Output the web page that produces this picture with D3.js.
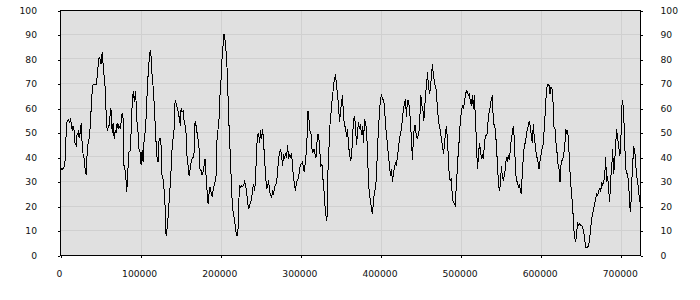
<!DOCTYPE html>
<html><head><meta charset="utf-8">
<script src="https://cdn.jsdelivr.net/npm/d3@7/dist/d3.min.js"></script>
<style>body{margin:0;background:#fff}svg{display:block}</style>
</head><body><svg id="c" width="700" height="300"></svg>
<script>
const xs = [0,2100,4100,5400,6200,7500,8700,10400,11200,12500,13700,14600,15800,17100,17800,19600,20800,22100,22800,23700,24900,25800,27100,28300,29600,30800,32000,33300,34500,35800,37000,38300,39500,40800,42800,44500,45800,47000,48300,49500,50800,52000,53200,54500,56100,57400,58600,59900,61100,62400,63600,64500,65700,67000,68200,69500,70700,72000,72700,74800,76900,78200,78900,80200,81400,82700,83900,85200,87300,88500,89800,91000,92300,93500,94400,95600,96900,98100,99400,100600,101900,103100,104400,106000,107200,108500,109700,111000,112200,113100,114300,115600,116800,118100,119300,120600,121800,123100,124300,125600,126800,128100,129300,130600,131800,133100,134300,135500,136800,138000,139300,140500,141800,143000,
143400,144700,145900,147100,148400,149600,150500,151800,153000,154300,155500,156700,158000,159200,160500,161700,163000,164200,165500,166700,168000,169200,170500,171700,173000,174200,175500,176700,177900,179200,180400,181700,182900,184200,185400,186700,187900,189200,190400,191700,192900,194200,195400,196700,197900,199100,200400,201600,202900,204100,204900,205800,207000,208200,209500,210700,212000,213200,214500,215700,217000,218200,219500,220700,222000,223200,224500,225700,227000,228600,229800,231100,232300,233600,234800,236100,237300,238600,239800,241000,242300,243500,244800,246000,247300,248500,249800,251000,252300,253500,254800,256000,257300,258500,259800,261000,262200,263500,264700,266000,267200,268500,269700,271000,272200,273500,274700,276000,277200,278500,279700,281000,282200,283400,284700,285900,287200,288400,289700,290900,292200,
293000,294300,295500,296800,298000,299300,300500,301800,303000,304300,305500,306800,308000,308900,310100,311400,312600,313900,315100,316400,317600,318900,320100,321400,322600,323800,325100,326300,327600,328800,330100,331300,332600,333800,335100,336300,337600,338800,340100,341300,342600,343300,344500,345800,347000,348300,349500,350800,352000,353300,354500,355800,357000,358300,359500,360800,362000,363300,364500,365700,367000,368200,369500,370700,372000,373200,374500,375700,377000,378200,379500,380700,382000,383200,384500,385700,386900,388200,389400,390700,391900,393200,394400,395700,396900,398200,399400,400700,401900,403200,404400,405700,406900,408100,409400,410600,411900,413100,414400,415600,416900,418100,419400,420600,421900,423100,424400,425600,426900,428100,429300,430600,431800,433100,434300,435600,436800,438100,439300,440600,441800,
442700,443900,445200,446400,447700,448900,449800,451000,452300,453500,454800,456000,457300,458000,459300,460500,461800,463000,464300,465500,466800,468000,469200,470500,471700,473000,474200,475500,476700,478000,479200,480500,481700,483000,484200,485500,486700,488000,489200,490400,491700,492900,494200,495400,496700,497900,499200,500400,501700,502900,504200,505400,506700,507900,509200,510400,511600,512900,514100,515400,516600,517900,519100,520400,521600,522900,524100,525400,526600,527900,529100,530300,531600,532800,534100,535300,536600,537800,539100,540300,541600,542800,544100,545300,546600,547800,549100,550300,551500,552800,554000,555300,556500,557800,559000,560300,561500,562800,564000,565300,566500,567800,569000,570300,571500,572700,574000,575200,576500,577700,579000,580200,581500,582700,584000,585200,586500,587700,589000,590200,591500,
592300,593600,594800,596100,597300,598600,599800,601100,602300,603500,604800,606000,607300,608500,609800,611000,612300,613500,614800,616000,617300,618500,619800,621000,622300,623500,624700,626000,627200,628500,629700,630600,631900,633100,634300,635600,636800,638100,639300,640600,641800,643100,644300,645600,646800,648100,649300,650600,651800,653100,654300,655500,656800,658000,659300,660500,661800,663000,664300,665500,666800,668000,669300,670500,671800,673000,674300,675500,676700,678000,679200,680500,681700,683000,684200,685500,686700,688000,689200,690500,691700,693000,694200,695500,696700,697900,699200,700400,701700,702900,704200,705400,706700,707900,709200,710400,711700,712900,714200,715400,716700,717900,719100,720400,721600,722900,724000];
const ys = [36,35,36,37,42,54,55,55.5,54,56,53,51,53,51,46,45,50,49,51,48,51,54,45,41,39.5,35,33,42,46,48,52,60,67,70,70,70,73,77.5,81,80,78,83,78,73,67,53,51,53,53,60,58.5,50,54,47.6,51,50,54,51.7,53,52,58,56,37,36,32.6,26,33,42,43,54,64.6,67,62.6,67,62.6,54,50,43,42,37,43,38,47.6,51,58.5,69,75.5,81,84,81,73.5,69,62.6,54,46,39.5,38,47.6,47.6,45,32,31,27,20,8,11,15.6,21.8,28,35,43.5,47.6,51.7,62.6,
63,62,60,58.5,55.8,53,60,58.5,59,55,53,50,40,36.7,32.6,35,38,39.5,40,42,55,53,50,47.6,43.5,35,34.7,33,34,36.7,39.5,32.6,26.5,21,25,28,26,24,26.5,28.6,30,32.6,47.6,51.7,55.8,65.3,72,80,85.7,90.5,89,87,81.6,74.8,61,50,40.8,30,20.4,17,15,12.2,8.2,8.2,12.2,28.6,28,28.6,28,28.6,30,28.6,26,21.8,19,20.4,21.8,23,27,29,26.5,31.3,43.5,49,50,46,51,47.6,51.7,46,39.5,32.6,27,28,30.6,26.5,24.5,23.8,26,25,28,28.6,30,34,39.5,42,43.5,40.8,36.7,41.5,39.5,42,40,45,39.5,41.5,40,42,36.7,30.6,30,
26.5,29,30.6,31.3,34,36.7,37.4,38,36.7,34,38,42,50,59,55.8,51,50,43.5,42,43.5,41.5,40,46,49.7,47.6,42,36.7,37.4,31.3,27,20.4,16.3,14.3,34,43.5,53,57.8,62.6,66.7,70.7,72.8,74,69.4,66,61.2,54.4,58.5,62.6,65.3,57,53,52.4,48.3,51.7,45,41.5,38.8,40,47.6,55,57,53,45,50,54.4,51.7,53.7,49,53,46,55.8,53.7,51.7,42,30,24.5,22.4,19,17,21.8,26.5,27.2,32.6,43.5,51.7,58.5,64,65.3,64,63.3,61.2,53,50,45,40.8,36.7,32.6,35.4,30,34,35.4,38,36.7,40.8,43.5,47.6,50,51.7,55.8,60,62,64,56.5,63.3,63.3,60,54.4,47.6,38.8,48.3,53,
53,49.7,47.6,49,51,58.5,65.3,61.2,60,55,61.2,66.7,70.7,74.8,69.4,66,68,73.5,78.2,73.5,70.7,68.7,67.3,60,55.8,52.4,51,47.6,45,41.5,45,50,53,47.6,39.5,31.3,30.6,31.3,23,21.8,21,20.4,30,35.4,43.5,47.6,55.8,58.5,61.2,60,62.6,65.3,67.3,66.7,65.3,66,62.6,61.2,65.3,60,65.3,55.8,47.6,35.4,39.5,46,43.5,39.5,40.8,39.5,45,49,49,49.7,57,58.5,61.2,64,65.3,54.4,53,51.7,45,38,30,26.5,28.6,36.7,32.6,30.6,32.6,35.4,40,38.8,40.8,38.8,43.5,47.6,50,53,47.6,36.7,30.6,30,28,28.6,27.2,25,34,40,45,46,49,51.7,53,55,52.4,49,46,53.7,47.6,
46,42,40,38,35.4,38.8,40.8,43.5,45,50,57,64,68.7,70,69.4,66,68.7,68,62.6,52.4,51.7,46,42,37.4,35.4,30,36.7,38.8,39.5,42,46,51.7,50,51,46,36,30,24.5,20.4,11,7.5,5.4,9.5,13,12.2,13,12.2,12.2,11.6,9.5,6.8,3.4,3.4,3.4,4,6.8,11,15,17,19,21,23,25,24.5,26.5,27.2,26,30,28.6,30.6,31.3,40,30,32.6,27.2,21.8,31.3,35.4,43.5,33.3,38,45,51.7,47.6,45,40.8,42,60,63.3,58.5,47.6,35.4,34,32.6,30,20.4,17.7,28.6,36.7,44.2,43.5,38,32.6,30.6,26.5,21.8,23];
const xTicks = [0,100000,200000,300000,400000,500000,600000,700000];
const yTicks = [0,10,20,30,40,50,60,70,80,90,100];
const xDomain = [0, 724000];
const yDomain = [0, 100];

const L = 60.5, R = 640.5, T = 10.5, B = 255.5;
const svg = d3.select('#c');
const x = d3.scaleLinear().domain(xDomain).range([L, R]);
const y = d3.scaleLinear().domain(yDomain).range([B, T]);
const font = '"DejaVu Sans", Verdana, sans-serif';

svg.append('rect').attr('x', L).attr('y', T).attr('width', R - L).attr('height', B - T).attr('fill', '#e0e0e0');

const grid = svg.append('g').attr('stroke', '#d0d0d0').attr('stroke-width', 1).attr('shape-rendering', 'crispEdges');
grid.selectAll('line.h').data(yTicks.slice(1, -1)).join('line')
  .attr('x1', L).attr('x2', R).attr('y1', d => Math.round(y(d)) - 0.5).attr('y2', d => Math.round(y(d)) - 0.5);
grid.selectAll('line.v').data(xTicks.slice(1)).join('line')
  .attr('y1', T).attr('y2', B).attr('x1', d => Math.round(x(d)) + 0.5).attr('x2', d => Math.round(x(d)) + 0.5);

const line = d3.line().x((d, i) => x(xs[i])).y((d, i) => y(ys[i]));
svg.append('path').datum(ys).attr('d', line).attr('fill', 'none').attr('stroke', '#000')
  .attr('stroke-width', 1).attr('shape-rendering', 'crispEdges');

svg.append('rect').attr('x', L).attr('y', T).attr('width', R - L).attr('height', B - T)
  .attr('fill', 'none').attr('stroke', '#000').attr('stroke-width', 1).attr('shape-rendering', 'crispEdges');

function style(g) {
  g.select('.domain').remove();
  g.selectAll('line').attr('stroke', '#000').attr('shape-rendering', 'crispEdges');
  g.selectAll('text').attr('fill', '#111').style('font-family', font).style('font-size', '9.2px');
}
svg.append('g').attr('transform', `translate(${L - 0.5},0)`)
  .call(d3.axisLeft(y).tickValues(yTicks).tickSize(2).tickPadding(21).tickFormat(d3.format('d'))).call(style);
svg.append('g').attr('transform', `translate(${R},0)`)
  .call(d3.axisRight(y).tickValues(yTicks).tickSize(2).tickPadding(18).tickFormat(d3.format('d'))).call(style);
svg.append('g').attr('transform', `translate(0,${B})`)
  .call(d3.axisBottom(x).tickValues(xTicks).tickSize(2).tickPadding(13).tickFormat(d3.format('d'))).call(style)
  .selectAll('text').attr('dx', -1.5);
</script></body></html>
